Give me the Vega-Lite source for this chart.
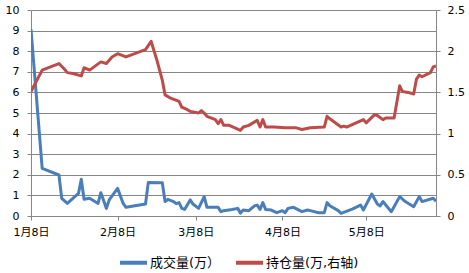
{
  "$schema": "https://vega.github.io/schema/vega-lite/v6.json",
  "width": 405,
  "height": 206,
  "autosize": {"type": "none"},
  "padding": {"left": 31, "top": 10, "right": 33, "bottom": 57},
  "background": "white",
  "config": {
    "view": {"stroke": null},
    "font": "DejaVu Sans, Noto Sans CJK SC",
    "axis": {
      "labelFont": "DejaVu Sans, Noto Sans CJK SC",
      "labelFontSize": 11,
      "labelColor": "#000000",
      "domainColor": "#868686",
      "tickColor": "#868686",
      "gridColor": "#868686",
      "title": null
    }
  },
  "datasets": {
    "vol": [
      {"date": "2013-01-08T00:00", "v": 9.06},
      {"date": "2013-01-12T00:00", "v": 2.31},
      {"date": "2013-01-18T00:00", "v": 1.99},
      {"date": "2013-01-19T00:00", "v": 0.86},
      {"date": "2013-01-21T00:00", "v": 0.61},
      {"date": "2013-01-25T00:00", "v": 1.10},
      {"date": "2013-01-26T00:00", "v": 1.78},
      {"date": "2013-01-27T00:00", "v": 0.81},
      {"date": "2013-01-29T00:00", "v": 0.86},
      {"date": "2013-02-01T00:00", "v": 0.61},
      {"date": "2013-02-02T00:00", "v": 1.13},
      {"date": "2013-02-04T00:00", "v": 0.37},
      {"date": "2013-02-05T00:00", "v": 0.78},
      {"date": "2013-02-08T00:00", "v": 1.34},
      {"date": "2013-02-10T00:00", "v": 0.61},
      {"date": "2013-02-11T00:00", "v": 0.42},
      {"date": "2013-02-18T00:00", "v": 0.58},
      {"date": "2013-02-19T00:00", "v": 1.63},
      {"date": "2013-02-24T00:00", "v": 1.62},
      {"date": "2013-02-25T00:00", "v": 0.70},
      {"date": "2013-02-26T00:00", "v": 0.81},
      {"date": "2013-02-28T00:00", "v": 0.70},
      {"date": "2013-03-01T00:00", "v": 0.60},
      {"date": "2013-03-02T00:00", "v": 0.65},
      {"date": "2013-03-03T00:00", "v": 0.37},
      {"date": "2013-03-04T00:00", "v": 0.32},
      {"date": "2013-03-06T00:00", "v": 0.78},
      {"date": "2013-03-07T00:00", "v": 0.58},
      {"date": "2013-03-09T00:00", "v": 0.37},
      {"date": "2013-03-11T00:00", "v": 0.94},
      {"date": "2013-03-12T00:00", "v": 0.42},
      {"date": "2013-03-16T00:00", "v": 0.42},
      {"date": "2013-03-17T00:00", "v": 0.21},
      {"date": "2013-03-18T00:00", "v": 0.26},
      {"date": "2013-03-21T00:00", "v": 0.32},
      {"date": "2013-03-23T00:00", "v": 0.37},
      {"date": "2013-03-24T00:00", "v": 0.14},
      {"date": "2013-03-25T00:00", "v": 0.29},
      {"date": "2013-03-27T00:00", "v": 0.26},
      {"date": "2013-03-29T00:00", "v": 0.49},
      {"date": "2013-03-30T00:00", "v": 0.53},
      {"date": "2013-03-31T00:00", "v": 0.32},
      {"date": "2013-04-01T00:00", "v": 0.65},
      {"date": "2013-04-02T00:00", "v": 0.32},
      {"date": "2013-04-04T00:00", "v": 0.29},
      {"date": "2013-04-06T00:00", "v": 0.16},
      {"date": "2013-04-08T00:00", "v": 0.26},
      {"date": "2013-04-09T00:00", "v": 0.16},
      {"date": "2013-04-10T00:00", "v": 0.37},
      {"date": "2013-04-12T00:00", "v": 0.42},
      {"date": "2013-04-15T00:00", "v": 0.21},
      {"date": "2013-04-17T00:00", "v": 0.29},
      {"date": "2013-04-18T00:00", "v": 0.26},
      {"date": "2013-04-21T00:00", "v": 0.16},
      {"date": "2013-04-23T00:00", "v": 0.16},
      {"date": "2013-04-24T00:00", "v": 0.65},
      {"date": "2013-04-25T00:00", "v": 0.50},
      {"date": "2013-04-28T00:00", "v": 0.26},
      {"date": "2013-04-29T00:00", "v": 0.13},
      {"date": "2013-05-03T00:00", "v": 0.33},
      {"date": "2013-05-06T00:00", "v": 0.53},
      {"date": "2013-05-07T00:00", "v": 0.29},
      {"date": "2013-05-10T00:00", "v": 1.07},
      {"date": "2013-05-12T00:00", "v": 0.58},
      {"date": "2013-05-13T00:00", "v": 0.49},
      {"date": "2013-05-14T00:00", "v": 0.70},
      {"date": "2013-05-17T00:00", "v": 0.21},
      {"date": "2013-05-20T00:00", "v": 0.94},
      {"date": "2013-05-22T00:00", "v": 0.70},
      {"date": "2013-05-25T00:00", "v": 0.45},
      {"date": "2013-05-27T00:00", "v": 0.94},
      {"date": "2013-05-28T00:00", "v": 0.70},
      {"date": "2013-06-01T00:00", "v": 0.86},
      {"date": "2013-06-02T00:00", "v": 0.72}
    ],
    "oi": [
      {"date": "2013-01-08T00:00", "v": 1.51},
      {"date": "2013-01-12T00:00", "v": 1.77},
      {"date": "2013-01-18T00:00", "v": 1.85},
      {"date": "2013-01-20T00:00", "v": 1.78},
      {"date": "2013-01-21T00:00", "v": 1.74},
      {"date": "2013-01-23T00:00", "v": 1.73},
      {"date": "2013-01-26T00:00", "v": 1.70},
      {"date": "2013-01-27T00:00", "v": 1.80},
      {"date": "2013-01-29T00:00", "v": 1.77},
      {"date": "2013-02-02T00:00", "v": 1.87},
      {"date": "2013-02-04T00:00", "v": 1.85},
      {"date": "2013-02-06T00:00", "v": 1.93},
      {"date": "2013-02-08T00:00", "v": 1.97},
      {"date": "2013-02-11T00:00", "v": 1.93},
      {"date": "2013-02-18T00:00", "v": 2.02},
      {"date": "2013-02-20T00:00", "v": 2.12},
      {"date": "2013-02-21T00:00", "v": 2.01},
      {"date": "2013-02-22T00:00", "v": 1.90},
      {"date": "2013-02-24T00:00", "v": 1.65},
      {"date": "2013-02-25T00:00", "v": 1.47},
      {"date": "2013-02-27T00:00", "v": 1.43},
      {"date": "2013-03-02T00:00", "v": 1.39},
      {"date": "2013-03-03T00:00", "v": 1.32},
      {"date": "2013-03-05T00:00", "v": 1.29},
      {"date": "2013-03-06T00:00", "v": 1.27},
      {"date": "2013-03-09T00:00", "v": 1.25},
      {"date": "2013-03-10T00:00", "v": 1.28},
      {"date": "2013-03-11T00:00", "v": 1.25},
      {"date": "2013-03-12T00:00", "v": 1.21},
      {"date": "2013-03-15T00:00", "v": 1.17},
      {"date": "2013-03-16T00:00", "v": 1.12},
      {"date": "2013-03-17T00:00", "v": 1.17},
      {"date": "2013-03-18T00:00", "v": 1.10},
      {"date": "2013-03-20T00:00", "v": 1.10},
      {"date": "2013-03-22T00:00", "v": 1.07},
      {"date": "2013-03-24T00:00", "v": 1.04},
      {"date": "2013-03-25T00:00", "v": 1.08},
      {"date": "2013-03-27T00:00", "v": 1.10},
      {"date": "2013-03-30T00:00", "v": 1.16},
      {"date": "2013-03-31T00:00", "v": 1.08},
      {"date": "2013-04-01T00:00", "v": 1.17},
      {"date": "2013-04-02T00:00", "v": 1.08},
      {"date": "2013-04-05T00:00", "v": 1.08},
      {"date": "2013-04-09T00:00", "v": 1.07},
      {"date": "2013-04-13T00:00", "v": 1.07},
      {"date": "2013-04-15T00:00", "v": 1.05},
      {"date": "2013-04-18T00:00", "v": 1.07},
      {"date": "2013-04-23T00:00", "v": 1.08},
      {"date": "2013-04-24T00:00", "v": 1.21},
      {"date": "2013-04-25T00:00", "v": 1.18},
      {"date": "2013-04-29T00:00", "v": 1.08},
      {"date": "2013-04-30T00:00", "v": 1.09},
      {"date": "2013-05-01T00:00", "v": 1.08},
      {"date": "2013-05-05T00:00", "v": 1.14},
      {"date": "2013-05-07T00:00", "v": 1.17},
      {"date": "2013-05-08T00:00", "v": 1.13},
      {"date": "2013-05-11T00:00", "v": 1.23},
      {"date": "2013-05-12T00:00", "v": 1.22},
      {"date": "2013-05-14T00:00", "v": 1.17},
      {"date": "2013-05-15T00:00", "v": 1.19},
      {"date": "2013-05-18T00:00", "v": 1.19},
      {"date": "2013-05-20T00:00", "v": 1.58},
      {"date": "2013-05-21T00:00", "v": 1.51},
      {"date": "2013-05-23T00:00", "v": 1.50},
      {"date": "2013-05-25T00:00", "v": 1.48},
      {"date": "2013-05-26T00:00", "v": 1.66},
      {"date": "2013-05-27T00:00", "v": 1.71},
      {"date": "2013-05-28T00:00", "v": 1.69},
      {"date": "2013-05-31T00:00", "v": 1.74},
      {"date": "2013-06-01T00:00", "v": 1.81},
      {"date": "2013-06-02T00:00", "v": 1.82}
    ]
  },
  "layer": [
    {
      "data": {"name": "vol"},
      "mark": {"type": "line", "strokeWidth": 3, "strokeJoin": "round", "clip": true},
      "encoding": {
        "x": {
          "field": "date",
          "type": "temporal",
          "scale": {"domain": [{"year": 2013, "month": 1, "date": 8}, {"year": 2013, "month": 6, "date": 2}]},
          "axis": {
            "values": [
              {"year": 2013, "month": 1, "date": 8},
              {"year": 2013, "month": 2, "date": 8},
              {"year": 2013, "month": 3, "date": 8},
              {"year": 2013, "month": 4, "date": 8},
              {"year": 2013, "month": 5, "date": 8}
            ],
            "format": "%-m月%-d日",
            "grid": false,
            "tickSize": 4,
            "labelPadding": 6,
            "labelFlush": false,
            "labelOverlap": false
          }
        },
        "y": {
          "field": "v",
          "type": "quantitative",
          "scale": {"domain": [0, 10], "nice": false, "zero": true},
          "axis": {
            "orient": "left",
            "values": [0, 1, 2, 3, 4, 5, 6, 7, 8, 9, 10],
            "grid": true,
            "tickSize": 4,
            "labelPadding": 8,
            "format": "d"
          }
        },
        "color": {
          "datum": "成交量(万）",
          "type": "nominal",
          "scale": {"domain": ["成交量(万）", "持仓量(万,右轴)"], "range": ["#4A7EBB", "#BE4B48"]},
          "legend": {
            "orient": "none",
            "legendX": 87,
            "legendY": 237,
            "direction": "horizontal",
            "title": null,
            "symbolType": "stroke",
            "symbolSize": 729,
            "symbolStrokeWidth": 4,
            "labelFontSize": 13,
            "labelFont": "DejaVu Sans, Noto Sans CJK SC",
            "labelColor": "#000000",
            "labelOffset": 1,
            "columnPadding": 7,
            "padding": 0
          }
        }
      }
    },
    {
      "data": {"name": "oi"},
      "mark": {"type": "line", "strokeWidth": 3, "strokeJoin": "round", "clip": true},
      "encoding": {
        "x": {"field": "date", "type": "temporal"},
        "y": {
          "field": "v",
          "type": "quantitative",
          "scale": {"domain": [0, 2.5], "nice": false, "zero": true},
          "axis": {
            "orient": "right",
            "values": [0, 0.5, 1, 1.5, 2, 2.5],
            "grid": false,
            "tickSize": 4,
            "labelPadding": 7,
            "format": ".2~f"
          }
        },
        "color": {"datum": "持仓量(万,右轴)", "type": "nominal"}
      }
    }
  ],
  "resolve": {"scale": {"y": "independent"}}
}
